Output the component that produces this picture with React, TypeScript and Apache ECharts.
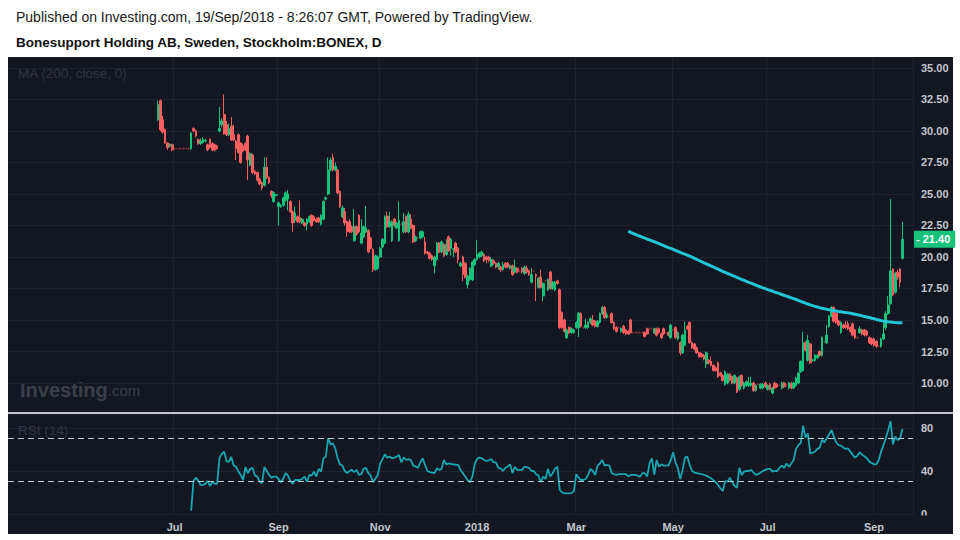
import React, { useEffect, useRef } from "react";
import * as echarts from "echarts";

const TITLE = "Published on Investing.com, 19/Sep/2018 - 8:26:07 GMT, Powered by TradingView.";
const SUBTITLE = "Bonesupport Holding AB, Sweden, Stockholm:BONEX, D";
const MA_LABEL = "MA (200, close, 0)";
const RSI_LABEL = "RSI (14)";
const FIRST_DAY = "2017-06-21";
const HOLIDAYS = ["2017-06-23", "2017-12-25", "2017-12-26", "2018-01-01", "2018-03-30", "2018-04-02", "2018-05-01", "2018-05-10", "2018-06-06", "2018-06-22"];
const LEAD_BLANKS = 63;
const TRAIL_BLANKS = 4;
const MA_PERIOD = 200;
const RSI_FIRST = 14;
const RSI_LEVELS = [70, 30];
const MONTHS = ["Jan", "Feb", "Mar", "Apr", "May", "Jun", "Jul", "Aug", "Sep", "Oct", "Nov", "Dec"];

// daily candles: [open, high, low, close]
const ohlc2017 = [
  [30.9,32.4,30.8,32.1],[32.4,32.5,30.0,30.1],[30.9,31.2,29.8,29.9],[30.1,30.2,29.0,29.05],[29.05,29.1,28.5,28.7],
  [28.8,29.0,28.7,28.95],[28.9,29.0,28.4,28.5],[28.6,28.7,28.5,28.6],[28.6,28.65,28.55,28.6],[28.6,28.7,28.5,28.6],
  [28.6,28.6,28.55,28.6],[28.6,28.7,28.5,28.6],[28.6,28.65,28.55,28.6],[28.6,28.7,28.5,28.6],[28.6,29.9,28.5,29.85],
  [30.2,30.3,29.9,30.0],[30.0,30.1,29.5,29.6],[29.3,29.4,28.9,29.0],[29.0,29.4,28.9,29.2],[29.1,29.5,29.0,29.3],
  [29.2,29.4,29.1,29.25],[28.9,29.0,28.4,28.5],[29.35,29.4,28.6,28.7],[29.0,29.1,28.4,28.5],[28.9,29.0,28.4,28.5],
  [28.8,28.9,28.5,28.6],[30.0,31.9,29.9,30.2],[30.5,31.0,30.3,30.8],[31.3,32.9,29.7,29.8],[30.5,30.8,29.6,29.7],
  [29.7,30.6,29.6,30.2],[30.4,31.1,29.2,29.3],[29.7,30.5,29.2,29.3],[29.2,29.3,27.7,28.6],[29.7,29.8,28.2,28.3],
  [29.05,29.1,27.4,27.5],[28.8,29.0,28.3,28.4],[29.0,29.1,28.4,28.5],[29.6,29.7,26.1,27.7],[27.3,28.3,27.2,28.2],
  [28.1,28.2,26.6,26.7],[26.8,26.9,26.5,26.6],[26.7,26.8,26.0,26.1],[26.2,26.3,25.7,25.8],[25.9,26.0,25.3,25.5],
  [25.7,27.9,25.6,27.1],[27.1,27.9,26.2,26.3],[26.3,26.4,25.8,25.9],[25.2,25.3,24.7,24.9],[24.4,25.2,24.3,25.1],
  [24.9,25.0,24.8,24.95],[24.0,24.4,22.5,24.3],[24.0,24.2,23.9,24.1],[24.1,24.8,24.0,24.7],[24.5,25.2,24.4,25.1],
  [24.6,25.3,23.7,25.0],[24.4,24.5,23.5,23.6],[23.6,23.7,22.0,22.7],[22.9,24.0,22.7,23.5],[23.2,23.3,22.7,22.8],
  [23.1,24.5,22.7,22.8],[22.7,23.1,22.6,23.0],[22.7,22.8,22.4,22.5],[22.6,23.1,22.1,23.0],[22.8,23.3,22.7,23.2],
  [23.3,23.4,22.4,22.5],[23.2,23.3,22.8,22.9],[23.0,23.1,22.7,22.8],[23.1,23.2,22.7,22.8],[22.6,23.4,22.5,23.3],
  [23.0,24.5,22.9,24.4],[24.6,24.8,24.5,24.7],[25.0,27.9,24.9,26.9],[26.9,27.9,26.8,27.7],[27.9,28.2,26.8,26.9],
  [26.9,27.5,26.8,27.2],[26.9,27.0,25.0,25.1],[25.2,25.3,23.9,24.0],[23.2,24.1,23.1,23.9],[23.6,23.9,22.5,22.7],
  [22.8,22.9,21.6,22.0],[22.8,23.0,21.9,22.0],[22.4,22.5,21.9,22.0],[21.3,23.8,21.2,22.4],[22.4,22.5,21.7,21.8],
  [23.3,23.4,21.9,22.0],[21.1,23.0,21.0,21.9],[21.6,22.5,21.5,22.4],[22.0,24.05,21.9,22.3],[22.1,22.2,20.3,20.4],
  [21.5,21.6,20.6,20.7],[20.6,20.7,18.8,19.0],[19.0,20.2,18.9,20.1],[19.1,20.1,19.0,20.0],[20.0,20.8,19.9,20.7],
  [20.8,21.5,20.7,21.4],[21.1,23.3,21.0,23.2],[23.25,23.6,22.3,22.4],[22.4,23.6,22.3,22.8],[21.3,22.9,21.2,22.8],
  [23.0,23.1,22.4,22.5],[22.3,22.8,22.2,22.7],[21.3,24.4,21.2,22.9],[22.6,22.7,22.5,22.6],[22.0,23.5,21.9,22.8],
  [23.2,23.3,21.9,22.0],[22.0,23.6,21.9,23.4],[23.0,23.4,22.2,22.3],[22.5,22.6,21.1,21.2],[21.3,21.7,21.2,21.6],
  [21.5,21.6,21.4,21.5],[21.5,22.1,21.4,22.0],[21.6,22.1,21.5,22.0],[21.2,21.6,20.2,20.3],[20.4,20.5,20.2,20.3],
  [20.3,20.4,19.8,19.9],[20.1,20.2,19.7,19.8],[19.3,20.1,18.7,20.0],[19.8,21.2,19.7,21.1],[21.1,21.2,20.3,20.4],
  [20.4,21.3,20.3,21.2],[21.0,21.1,20.0,20.1],[20.2,21.4,20.1,21.0],[21.6,21.7,20.4,20.5],[20.7,21.5,20.1,21.4],
  [20.6,20.7,20.0,20.65],[21.1,21.2,20.3,20.4],[20.7,20.8,19.5,19.8],[19.3,19.6,19.2,19.5],[20.0,20.1,18.1,18.6],
  [19.5,19.6,18.3,18.4],[17.8,18.6,17.5,18.5],[18.2,19.2,18.1,19.1],[18.2,19.7,18.1,19.6],[19.4,19.9,19.3,19.8]
];

const ohlc2018 = [
  [19.8,21.35,19.7,20.2],[20.0,20.4,19.9,20.3],[20.1,20.5,20.0,20.4],[20.2,20.3,19.6,19.7],[20.0,20.1,19.5,19.8],
  [20.0,20.1,19.6,19.7],[19.3,20.0,19.2,19.8],[19.7,19.8,19.4,19.5],[19.5,19.6,19.1,19.2],[19.2,19.6,19.0,19.5],
  [19.2,19.3,18.8,19.0],[19.0,19.6,18.9,19.4],[19.5,19.6,19.1,19.2],[19.5,19.6,19.1,19.2],[19.1,19.4,19.0,19.3],
  [19.3,19.4,18.5,18.6],[18.8,19.8,18.7,19.2],[19.1,19.2,18.7,18.8],[18.9,19.0,18.8,18.9],[19.1,19.2,18.7,18.8],
  [18.7,19.3,18.6,19.2],[19.1,19.3,18.7,18.8],[18.9,19.0,18.5,18.6],[18.0,19.1,17.9,18.6],[18.9,19.0,18.8,18.9],
  [18.6,18.7,16.5,18.5],[17.6,18.4,17.5,18.3],[18.4,19.0,17.5,17.6],[16.9,18.0,16.5,17.9],[18.1,18.2,18.0,18.1],
  [17.4,18.3,17.3,18.2],[18.8,18.9,17.4,17.5],[17.5,18.1,17.4,18.0],[17.4,18.1,17.3,18.0],[18.1,18.2,17.8,17.9],
  [17.4,17.5,14.3,14.4],[15.6,15.7,14.3,14.4],[15.0,15.1,14.0,14.1],[13.6,14.3,13.5,14.2],[14.4,14.5,13.9,14.0],
  [14.0,14.4,13.9,14.3],[14.0,14.3,13.9,14.2],[14.4,14.9,14.3,14.8],[14.4,15.6,13.65,15.55],[15.5,15.6,14.4,14.5],
  [14.4,14.5,14.3,14.4],[14.4,15.1,14.3,14.6],[14.4,14.9,14.3,14.8],[14.8,15.2,14.7,15.1],[15.0,15.4,14.5,14.6],
  [14.9,15.0,14.4,14.5],[14.5,15.0,14.4,14.9],[14.8,15.6,14.7,15.5],[15.5,16.1,15.4,16.0],[16.0,16.1,15.1,15.2],
  [15.2,15.6,15.1,15.4],[15.3,15.4,15.2,15.3],[15.5,15.6,14.7,14.8],[14.8,14.9,14.2,14.3],[14.4,14.5,14.0,14.1],
  [14.4,14.5,14.3,14.4],[14.1,14.4,14.0,14.3],[14.5,14.6,13.9,14.0],[14.2,14.3,13.8,13.9],[14.1,14.2,13.8,13.9],
  [15.0,15.1,13.9,14.0],[14.0,14.1,13.9,14.0],[14.0,14.1,13.9,14.0],[14.0,14.1,13.9,14.0],[14.0,14.1,13.9,14.0],
  [14.0,14.1,13.9,14.0],[14.0,14.1,13.6,13.7],[14.3,14.4,13.8,13.9],[14.3,14.4,14.2,14.3],[14.3,14.4,14.2,14.3],
  [13.95,14.4,13.9,14.3],[14.3,14.4,13.7,13.8],[14.3,14.4,13.9,14.0],[13.9,14.0,13.5,13.6],[14.3,14.4,13.8,13.9],
  [14.0,14.1,13.9,14.0],[14.0,14.1,13.7,13.8],[13.6,14.7,13.5,14.6],[14.2,14.3,14.1,14.2],[14.4,14.5,13.5,13.6],
  [13.5,14.1,13.4,14.0],[13.2,13.3,12.2,12.4],[12.4,13.9,12.3,13.8],[13.0,14.85,12.9,14.2],[14.5,14.6,14.2,14.3],
  [14.8,14.9,13.1,13.2],[13.2,13.3,12.7,12.8],[13.1,13.2,12.6,12.7],[12.8,12.9,12.3,12.4],[12.4,12.5,12.0,12.1],
  [12.3,12.4,12.0,12.1],[12.2,12.3,11.8,11.9],[11.5,12.5,11.2,12.4],[11.8,11.9,11.5,11.6],[11.7,12.1,11.3,11.4],
  [11.4,11.5,10.9,11.0],[11.2,11.3,10.9,11.0],[11.6,11.7,10.4,10.5],[10.8,10.9,10.5,10.6],[10.6,10.7,10.1,10.2],
  [9.9,11.0,9.8,10.9],[10.0,10.8,9.9,10.7],[10.7,10.8,10.1,10.2],[10.5,10.6,9.9,10.0],[10.0,10.7,9.9,10.6],
  [10.4,10.5,9.2,9.3],[9.5,10.6,9.4,10.5],[10.6,10.7,9.7,9.8],[9.6,10.1,9.5,10.0],[9.8,10.2,9.7,10.1],
  [9.8,10.5,9.7,10.0],[9.8,10.5,9.7,10.0],[10.0,10.1,9.3,9.4],[9.4,9.9,9.3,9.8],[9.9,10.0,9.8,9.9],
  [9.6,10.0,9.5,9.9],[9.6,10.0,9.5,9.9],[10.0,10.1,9.6,9.7],[9.5,9.9,9.4,9.8],[9.9,10.0,9.4,9.5],
  [9.2,9.7,9.1,9.6],[10.0,10.1,9.5,9.6],[9.9,10.0,9.6,9.7],[9.8,9.9,9.7,9.8],[9.6,10.1,9.5,10.0],
  [10.0,10.1,9.6,9.7],[9.8,9.9,9.7,9.8],[9.6,10.1,9.5,10.0],[10.0,10.1,9.5,9.6],[9.6,10.1,9.5,10.0],
  [9.8,10.5,9.7,10.4],[10.0,10.9,9.9,10.8],[10.9,11.8,10.8,11.7],[11.0,14.05,10.9,13.2],[13.2,13.3,12.5,12.6],
  [11.8,13.8,11.7,13.4],[13.1,13.2,11.5,11.6],[11.8,11.9,11.7,11.85],[11.8,12.3,11.7,12.2],[12.0,12.3,11.9,12.2],
  [12.5,12.6,12.1,12.2],[12.2,13.7,12.1,13.6],[13.3,13.4,13.2,13.3],[13.2,14.6,13.1,13.8],[14.5,15.4,14.4,15.3],
  [15.3,16.1,15.2,16.0],[16.0,16.1,14.8,14.9],[15.5,15.6,14.7,14.8],[14.9,15.0,14.5,14.6],[14.0,14.9,13.9,14.8],
  [14.6,14.7,14.3,14.4],[14.6,14.9,14.3,14.4],[14.7,14.9,14.2,14.3],[14.4,14.5,14.0,14.1],[14.7,14.8,13.7,13.8],
  [14.2,14.3,13.5,13.6],[13.6,13.7,13.5,13.6],[14.0,14.5,13.9,14.3],[14.2,14.3,13.8,13.9],[14.2,14.3,13.7,13.8],
  [14.1,14.2,13.7,13.8],[13.6,13.7,13.1,13.2],[13.5,13.6,13.0,13.1],[13.5,13.6,12.9,13.0],[13.3,13.4,12.8,12.9],
  [12.9,13.0,12.8,12.9],[12.9,13.6,12.8,13.5],[13.5,14.8,13.4,13.9],[14.4,15.7,14.2,15.5],[15.5,16.9,15.4,16.2],
  [16.3,24.6,16.2,18.9],[19.05,19.1,16.9,17.0],[17.2,18.8,17.1,18.7],[18.8,19.0,18.2,18.4],[19.05,19.1,17.6,18.0],
  [19.9,22.8,19.8,21.4]
];

const rsi2017 = [
  3, 30.7, 33.8, 31, 27, 27, 28, 30.7, 26, 29.7,
  28, 28, 52, 56, 58, 48.7, 48.7, 53, 45, 44,
  39.4, 36.3, 31.6, 43.7, 38, 42, 43, 35.7, 34.8, 30,
  28.5, 43.7, 40, 36.3, 33.8, 34.8, 34.8, 32.6, 29.5, 33,
  38, 35.7, 30.7, 28, 31.6, 31.6, 31.6, 32.6, 34.8, 30,
  36.3, 35.7, 39.4, 34.8, 42, 39.4, 51.8, 53.3, 70.4, 64.8,
  65.7, 61, 51.8, 46.2, 45, 40, 38, 40, 41, 39,
  41, 36.3, 37, 42, 43, 38, 35.7, 29.5, 33, 36.3,
  47, 51, 55.5, 52.4, 53.3, 51.8, 52.5, 53.3, 54.9, 48,
  52.7, 50.2, 51, 50.2, 45, 44, 43, 48, 51.8, 45.6,
  40, 39, 38.5, 38, 42.5, 41, 42, 50.2, 46.2, 47,
  46.5, 46.2, 45.8, 45.6, 41, 38, 34.8, 31.6, 29.5, 34.8,
  46.2
];
const rsi2018 = [
  51.2, 52.4, 52, 50.2, 49.3, 50, 51.2, 48, 48, 43,
  42.5, 40, 43, 44, 46.2, 38, 44, 41, 41, 41,
  44, 43.5, 43, 40, 40, 37, 35.7, 29.5, 34.8, 32.6,
  42, 34.8, 38, 42, 44, 22.3, 20, 19.5, 19.2, 19.2,
  19.5, 21.3, 37, 33.8, 31.6, 31.6, 32.6, 36.3, 42, 40,
  36.3, 45, 47, 50.2, 45, 45.6, 45, 38, 37, 36.3,
  37, 37, 37, 37, 34.8, 36.3, 36.3, 36.3, 35.5, 34.8,
  38, 38, 34.8, 47, 51.8, 36.3, 50.2, 44, 46.2, 45,
  45, 45, 50, 57.4, 48, 42.5, 32.6, 41, 52.4, 53.3,
  45.6, 40, 38.5, 38, 37.5, 37, 36.5, 35.7, 34.5, 33.2,
  31.5, 29.5, 27, 24, 21.3, 30.7, 30, 33.8, 29.5, 26,
  24.5, 43, 36.3, 39.4, 40, 40, 41, 38.5, 36.3, 37,
  38.5, 40, 41, 42, 42, 39.4, 40, 40, 43, 45,
  43, 47, 44, 47, 50.2, 60.5, 64, 66, 82.2, 71,
  75, 56.4, 57, 58, 60.5, 61.7, 68.8, 66.7, 70.4, 74,
  78, 72, 66.7, 64, 63.6, 61.7, 60.5, 61, 58, 55,
  52.4, 54.3, 57.4, 55, 53.5, 51.8, 48.7, 47.5, 46.2, 46.2,
  50.2, 58, 64, 70.4, 78, 86.5, 64.8, 72, 68.8, 70, 79
];

const UP = "#17c27b";
const DOWN = "#fb5e5e";
const DOJI = "#7a2e32";
const BG = "#131722";
const GRID = "#1f2331";
const AXIS_TEXT = "#c3c6cd";
const LEGEND_TEXT = "#30343f";
const MA_COLOR = "#22c6d6";
const RSI_COLOR = "#17a6b0";
const LEVEL_COLOR = "#b9cdd1";
const FONT = "'Liberation Sans', Arial, Helvetica, sans-serif";

const candles = [...ohlc2017, ...ohlc2018];
const rsi = [...rsi2017, ...rsi2018];

const DAY = 86400000;
const fmt = (d: Date) => d.toISOString().slice(0, 10);
const isSession = (d: Date) => {
  const w = d.getUTCDay();
  return w !== 0 && w !== 6 && HOLIDAYS.indexOf(fmt(d)) < 0;
};

function buildCategories(): string[] {
  const start = new Date(FIRST_DAY + "T00:00:00Z");
  const before: string[] = [];
  let d = new Date(start.getTime() - DAY);
  while (before.length < LEAD_BLANKS) {
    if (isSession(d)) before.unshift(fmt(d));
    d = new Date(d.getTime() - DAY);
  }
  const rest: string[] = [];
  d = start;
  while (rest.length < candles.length + TRAIL_BLANKS) {
    if (isSession(d)) rest.push(fmt(d));
    d = new Date(d.getTime() + DAY);
  }
  return [...before, ...rest];
}

const categories = buildCategories();
const labelIdx = new Set<number>();
for (let k = LEAD_BLANKS + 1; k < LEAD_BLANKS + candles.length; k++) {
  const m = +categories[k].slice(5, 7) - 1;
  const pm = +categories[k - 1].slice(5, 7) - 1;
  if (m !== pm && m % 2 === 0) labelIdx.add(k);
}
const showAt = (i: number) => labelIdx.has(i);
const labelText = (v: string) => {
  const m = +v.slice(5, 7) - 1;
  return m === 0 ? v.slice(0, 4) : MONTHS[m];
};

const blanks = (n: number) => Array.from({ length: n }, () => "-");
const closes = candles.map((c) => c[3]);

const candleData: any[] = [
  ...blanks(LEAD_BLANKS),
  ...candles.map(([o, h, l, c]) =>
    o === c
      ? { value: [o, c, l, h], itemStyle: { color: DOJI, color0: DOJI, borderColor: DOJI, borderColor0: DOJI } }
      : [o, c, l, h]
  ),
];

const maData: any[] = [
  ...blanks(LEAD_BLANKS),
  ...closes.map((_, i) => {
    if (i < MA_PERIOD - 1) return "-";
    let s = 0;
    for (let j = i - MA_PERIOD + 1; j <= i; j++) s += closes[j];
    return +(s / MA_PERIOD).toFixed(3);
  }),
];

const rsiData: any[] = [...blanks(LEAD_BLANKS + RSI_FIRST), ...rsi];
const lastClose = closes[closes.length - 1];

const axisLabelStyle = { color: AXIS_TEXT, fontSize: 11, fontWeight: "bold" as const, fontFamily: FONT };

const option: any = {
  animation: false,
  backgroundColor: "#ffffff",
  graphic: [
    { type: "rect", z: -100, silent: true, shape: { x: 8, y: 57, width: 945, height: 477 }, style: { fill: BG } },
    {
      type: "text", x: 16, y: 17, silent: true,
      style: { text: TITLE, fill: "#1a1a1a", fontSize: 14, fontFamily: FONT, verticalAlign: "middle" },
    },
    {
      type: "text", x: 16, y: 42, silent: true,
      style: { text: SUBTITLE, fill: "#111111", fontSize: 13.5, fontWeight: "bold", fontFamily: FONT, verticalAlign: "middle" },
    },
    {
      type: "text", x: 18, y: 73, silent: true,
      style: { text: MA_LABEL, fill: LEGEND_TEXT, fontSize: 13.5, fontFamily: FONT, verticalAlign: "middle" },
    },
    {
      type: "text", x: 18, y: 430, z: 20, silent: true,
      style: { text: RSI_LABEL, fill: LEGEND_TEXT, fontSize: 13.5, fontFamily: FONT, verticalAlign: "middle" },
    },
    {
      type: "text", x: 20, y: 390, silent: true,
      style: {
        text: "{a|Investing}{b|.com}",
        verticalAlign: "middle",
        rich: {
          a: { fill: "#3b3f4a", fontSize: 20, fontWeight: "bold", fontFamily: FONT },
          b: { fill: "#3b3f4a", fontSize: 15, fontFamily: FONT },
        },
      },
    },
    {
      type: "line", z: 30, silent: true,
      shape: { x1: 8, y1: 413, x2: 953, y2: 413 },
      style: { stroke: "#ffffff", lineWidth: 1.5 },
    },
    { type: "rect", z: 40, silent: true, shape: { x: 913, y: 515.5, width: 40, height: 18.5 }, style: { fill: BG } },
  ],
  grid: [
    { left: 8, right: 47, top: 57, height: 357.5 },
    { left: 8, right: 47, top: 414, height: 100 },
  ],
  xAxis: [
    {
      type: "category", gridIndex: 0, data: categories, boundaryGap: true,
      axisLine: { show: false }, axisTick: { show: false }, axisLabel: { show: false },
      splitLine: { show: true, interval: showAt, lineStyle: { color: GRID, width: 1 } },
    },
    {
      type: "category", gridIndex: 1, data: categories, boundaryGap: true,
      axisLine: { show: false }, axisTick: { show: false },
      axisLabel: { ...axisLabelStyle, interval: showAt, formatter: labelText, margin: 7 },
      splitLine: { show: true, interval: showAt, lineStyle: { color: GRID, width: 1 } },
    },
  ],
  yAxis: [
    {
      type: "value", gridIndex: 0, position: "right", min: 7.5, max: 35.873, interval: 2.5, scale: true,
      axisLine: { show: false }, axisTick: { show: false },
      axisLabel: { ...axisLabelStyle, margin: 8, showMinLabel: false, showMaxLabel: false, formatter: (v: number) => v.toFixed(2) },
      splitLine: { lineStyle: { color: GRID, width: 1 } },
    },
    {
      type: "value", gridIndex: 1, position: "right", min: 0, max: 93, interval: 40,
      axisLine: { show: false }, axisTick: { show: false },
      axisLabel: { ...axisLabelStyle, margin: 8, showMaxLabel: false, formatter: (v: number) => String(v) },
      splitLine: { lineStyle: { color: GRID, width: 1 } },
    },
  ],
  series: [
    {
      type: "candlestick", xAxisIndex: 0, yAxisIndex: 0, data: candleData, barWidth: 2.2,
      itemStyle: { color: UP, color0: DOWN, borderColor: UP, borderColor0: DOWN, borderWidth: 1 },
      markLine: {
        silent: true, symbol: "none", animation: false,
        lineStyle: { color: "rgba(0,0,0,0)", opacity: 1, width: 0 },
        label: {
          show: true, position: "end", distance: 1, opacity: 1,
          formatter: () => "- " + lastClose.toFixed(2),
          backgroundColor: UP, color: "#ffffff", fontSize: 11, fontWeight: "bold", fontFamily: FONT,
          padding: [3, 5, 3, 2],
        },
        data: [{ yAxis: lastClose }],
      },
    },
    {
      type: "line", xAxisIndex: 0, yAxisIndex: 0, data: maData, showSymbol: false, z: 5,
      lineStyle: { color: MA_COLOR, width: 3 }, silent: true,
    },
    {
      type: "line", xAxisIndex: 1, yAxisIndex: 1, data: rsiData, showSymbol: false,
      lineStyle: { color: RSI_COLOR, width: 1.8 }, silent: true,
      markLine: {
        silent: true, symbol: "none", animation: false,
        label: { show: false },
        lineStyle: { color: LEVEL_COLOR, type: [6, 4], width: 1 },
        data: RSI_LEVELS.map((v) => ({ yAxis: v })),
      },
    },
  ],
};

export default function App() {
  const ref = useRef<HTMLDivElement>(null);
  useEffect(() => {
    const chart = echarts.init(ref.current as HTMLDivElement, null, { renderer: "svg", width: 960, height: 540 });
    chart.setOption(option);
    return () => chart.dispose();
  }, []);
  return (
    <div
      ref={ref}
      style={{ position: "fixed", left: 0, top: 0, width: 960, height: 540, background: "#ffffff" }}
    />
  );
}
